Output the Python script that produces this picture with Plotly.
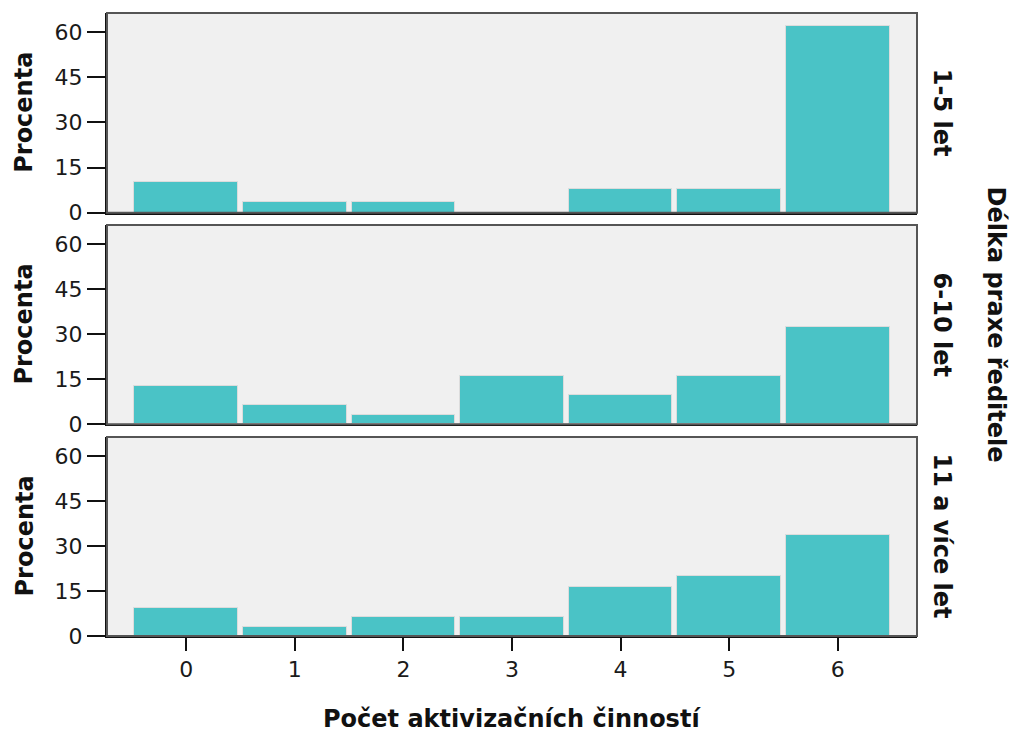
import plotly.graph_objects as go
from plotly.subplots import make_subplots

categories = [0, 1, 2, 3, 4, 5, 6]
panel_labels = ["1-5 let", "6-10 let", "11 a více let"]
pct_1_5 = [10.3, 3.4, 3.4, 0, 7.9, 7.9, 62.1]
pct_6_10 = [12.9, 6.5, 3.2, 16.1, 9.7, 16.1, 32.3]
pct_11 = [9.5, 3.0, 6.3, 6.3, 16.5, 19.9, 33.8]
series = [pct_1_5, pct_6_10, pct_11]
y_ticks = [0, 15, 30, 45, 60]

W, H = 1016, 733
L, R, T, B = 107, 99, 13, 97
pw, ph = W - L - R, H - T - B

def xp(px):
    return (px - L) / pw

def yp(py):
    return (H - B - py) / ph

bar_color = "#4AC3C6"
font_fam = "DejaVu Sans"

fig = make_subplots(rows=3, cols=1, shared_xaxes=False)
for i, vals in enumerate(series):
    fig.add_trace(go.Bar(x=categories, y=vals, width=0.955,
                         marker=dict(color=bar_color, line=dict(color="#DCDCDC", width=1)),
                         showlegend=False), row=i + 1, col=1)

domains = [[yp(212.7), 1.0], [yp(424.3), yp(225)], [0.0, yp(437)]]
for i in range(3):
    n = "" if i == 0 else str(i + 1)
    bottom = (i == 2)
    fig.layout["xaxis" + n].update(
        domain=[0, 1], range=[-0.73, 6.73], tickvals=categories,
        showticklabels=bottom, ticks="outside" if bottom else "",
        ticklen=13, tickwidth=2, tickcolor="#111",
        showline=True, linecolor="#111", linewidth=2, showgrid=False, zeroline=False,
        tickfont=dict(family=font_fam, size=22, color="#1a1a1a"))
    fig.layout["yaxis" + n].update(
        domain=domains[i], range=[0, 66.4], tickvals=y_ticks,
        ticks="outside", ticklen=18, tickwidth=2, tickcolor="#111",
        showline=True, linecolor="#111", linewidth=2, showgrid=False, zeroline=False,
        tickfont=dict(family=font_fam, size=22, color="#1a1a1a"))
    fig.add_shape(type="rect", xref="x" + n + " domain", yref="y" + n + " domain",
                  x0=0, x1=1, y0=0, y1=1, line=dict(color="#555", width=2), layer="above")

annotations = []
panel_centers = [112.8, 324.6, 536.5]
for i, lab in enumerate(panel_labels):
    annotations.append(dict(text="<b>Procenta</b>", x=xp(24), y=yp(panel_centers[i]),
                            xref="paper", yref="paper", showarrow=False, textangle=-90,
                            xanchor="center", yanchor="middle",
                            font=dict(family=font_fam, size=24, color="#111")))
    annotations.append(dict(text="<b>" + lab + "</b>", x=xp(942), y=yp(panel_centers[i]),
                            xref="paper", yref="paper", showarrow=False, textangle=90,
                            xanchor="center", yanchor="middle",
                            font=dict(family=font_fam, size=24, color="#111")))
annotations.append(dict(text="<b>Délka praxe ředitele</b>", x=xp(996), y=yp(324.5),
                        xref="paper", yref="paper", showarrow=False, textangle=90,
                        xanchor="center", yanchor="middle",
                        font=dict(family=font_fam, size=24, color="#111")))
annotations.append(dict(text="<b>Počet aktivizačních činností</b>", x=0.5, y=yp(719),
                        xref="paper", yref="paper", showarrow=False,
                        xanchor="center", yanchor="middle",
                        font=dict(family=font_fam, size=24, color="#111")))

fig.update_layout(width=W, height=H, margin=dict(l=L, r=R, t=T, b=B),
                  paper_bgcolor="white", plot_bgcolor="#F0F0F0",
                  bargap=0, annotations=annotations)

fig.write_html("out.html", config={"displayModeBar": False},
               post_script="document.body.style.margin='0px';document.body.style.overflow='hidden';")
